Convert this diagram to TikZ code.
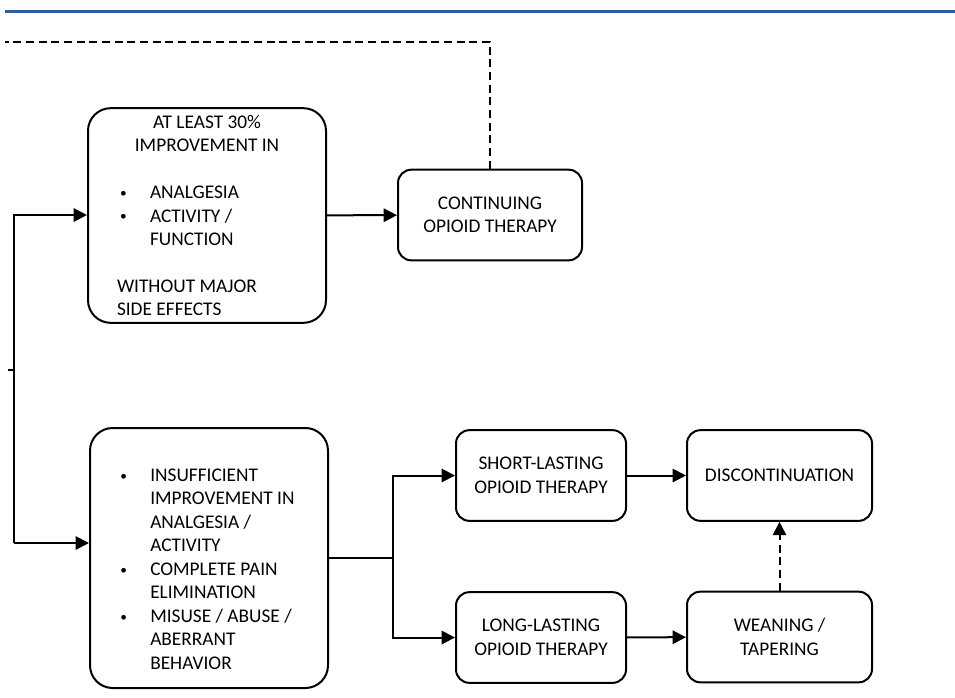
\documentclass[tikz,border=0pt]{standalone}
\usepackage{fontspec}
\setmainfont{Carlito}
\usetikzlibrary{arrows.meta}
\definecolor{bluriga}{RGB}{46,94,160}

\begin{document}
\begin{tikzpicture}[x=0.75pt, y=-0.75pt,
  font=\fontsize{14.5}{17.6}\selectfont,
  linea/.style={line width=1.5pt, black},
  freccia/.style={linea, -{Triangle[length=10pt,width=10pt]}},
  tratteggio/.style={linea, dash pattern=on 6pt off 3.5pt},
  grande/.style={draw, linea, rounded corners=17pt, minimum width=178.5pt, inner sep=0pt},
  piccolo/.style={draw, linea, rounded corners=10pt, align=center, inner sep=0pt, minimum height=68pt}]

  % Rientro degli elenchi puntati
  \def\rientro{24.75pt}
  \def\pallino{\makebox[\rientro][l]{\hspace{2.25pt}\raisebox{0.8pt}{\fontsize{10}{10}\selectfont\textbullet}}}

  % Area del disegno
  \useasboundingbox (0,0) rectangle (955,697);

  % Riga blu in alto
  \draw[bluriga, line width=2.25pt] (5,11) -- (955,11);

  % Riquadro superiore (miglioramento)
  \node[grande, minimum height=161pt, align=left] (migliora) at (207,215.5) {%
    \makebox[135pt]{AT LEAST 30\%}\\
    \makebox[135pt]{IMPROVEMENT IN}\\[17.6pt]
    \pallino ANALGESIA\\
    \pallino ACTIVITY /\\
    \hspace*{\rientro}FUNCTION\\[17.6pt]
    WITHOUT MAJOR\\
    SIDE EFFECTS};

  % Riquadro della terapia continuata
  \node[piccolo, minimum width=138pt] (continua) at (490,215) {CONTINUING\\OPIOID THERAPY};

  % Riquadro inferiore (risposta insufficiente)
  \node[grande, minimum height=195pt] (insuff) at (209,558) {};
  \node[align=left, anchor=west, inner sep=0pt] (insufftesto) at (117,569) {%
    \pallino INSUFFICIENT\\
    \hspace*{\rientro}IMPROVEMENT IN\\
    \hspace*{\rientro}ANALGESIA /\\
    \hspace*{\rientro}ACTIVITY\\
    \pallino COMPLETE PAIN\\
    \hspace*{\rientro}ELIMINATION\\
    \pallino MISUSE / ABUSE /\\
    \hspace*{\rientro}ABERRANT\\
    \hspace*{\rientro}BEHAVIOR};

  % Terapie a breve e lunga durata
  \node[piccolo, minimum width=127.5pt] (breve) at (541,475.5) {SHORT-LASTING\\OPIOID THERAPY};
  \node[piccolo, minimum width=127.5pt] (lunga) at (541,637.5) {LONG-LASTING\\OPIOID THERAPY};

  % Sospensione e riduzione graduale
  \node[piccolo, minimum width=138.75pt] (sospensione) at (779.5,475.5) {DISCONTINUATION};
  \node[piccolo, minimum width=138.75pt] (riduzione) at (779.5,637) {WEANING /\\TAPERING};

  % Punti dei rami
  \coordinate (ramoA) at (14,215);
  \coordinate (ramoC) at (14,543);
  \coordinate (tacca) at (8,370);
  \coordinate (bivio) at (393,558);
  \coordinate (finetratto) at (5,42);

  % Ramo di sinistra
  \draw[linea] (tacca) -- (tacca -| ramoA);
  \draw[freccia] (ramoC) -- (ramoA) -- (ramoA -| migliora.west);
  \draw[freccia] (ramoC) -- (ramoC -| insuff.west);

  % Collegamenti in alto
  \draw[freccia] (migliora) -- (continua);
  \draw[tratteggio] (continua.north) |- (finetratto);

  % Collegamenti in basso
  \draw[linea] (insuff.east |- bivio) -- (bivio);
  \draw[freccia] (bivio) |- (breve);
  \draw[freccia] (bivio) |- (lunga);
  \draw[freccia] (breve) -- (sospensione);
  \draw[freccia] (lunga) -- (riduzione);
  \draw[tratteggio, -{Triangle[length=10pt,width=10pt]}] (riduzione) -- (sospensione);

\end{tikzpicture}
\end{document}
